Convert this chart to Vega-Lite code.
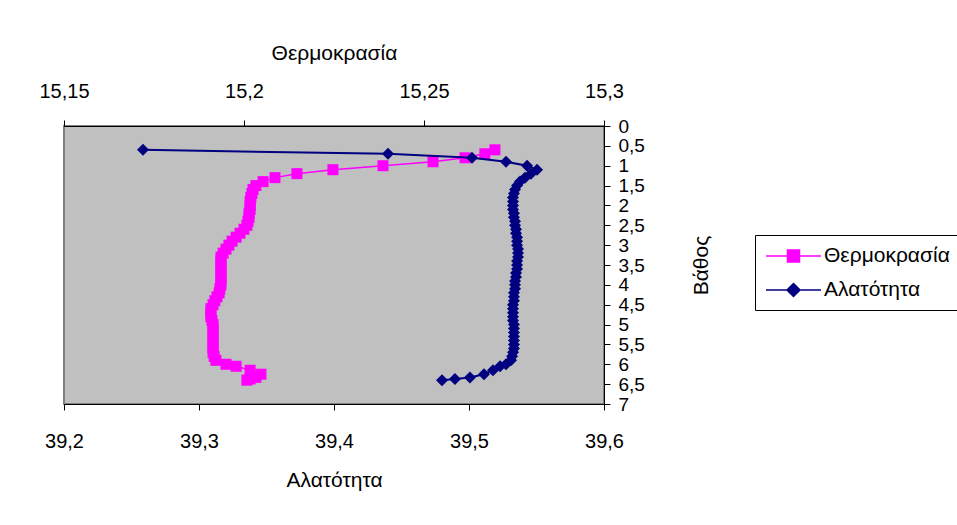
{
  "$schema": "https://vega.github.io/schema/vega-lite/v6.json",
  "width": 540,
  "height": 278,
  "autosize": {"type": "none"},
  "padding": {"left": 64, "top": 126, "right": 353, "bottom": 121},
  "background": "white",
  "config": {
    "view": {"fill": "#C0C0C0", "stroke": "#808080", "strokeWidth": 2},
    "font": "Liberation Sans",
    "axis": {
      "labelFont": "Liberation Sans", "labelFontSize": 20, "labelColor": "black",
      "titleFont": "Liberation Sans", "titleFontSize": 21, "titleFontWeight": "normal", "titleColor": "black",
      "domainColor": "black", "tickColor": "black", "tickSize": 6, "grid": false,
      "labelOverlap": false, "labelFlush": false
    }
  },
  "data": {"values": [
    {"depth": 0.6, "temp": 15.2697, "sal": 39.2585},
    {"depth": 0.7, "temp": 15.2669, "sal": 39.44},
    {"depth": 0.8, "temp": 15.2614, "sal": 39.5022},
    {"depth": 0.9, "temp": 15.2525, "sal": 39.5274},
    {"depth": 1.0, "temp": 15.2386, "sal": 39.543},
    {"depth": 1.1, "temp": 15.2247, "sal": 39.5504},
    {"depth": 1.2, "temp": 15.2147, "sal": 39.5459},
    {"depth": 1.3, "temp": 15.2086, "sal": 39.5415},
    {"depth": 1.4, "temp": 15.2053, "sal": 39.5378},
    {"depth": 1.5, "temp": 15.2033, "sal": 39.5356},
    {"depth": 1.6, "temp": 15.2025, "sal": 39.5341},
    {"depth": 1.7, "temp": 15.2022, "sal": 39.5333},
    {"depth": 1.8, "temp": 15.2019, "sal": 39.5326},
    {"depth": 1.9, "temp": 15.2017, "sal": 39.5326},
    {"depth": 2.0, "temp": 15.2017, "sal": 39.5326},
    {"depth": 2.1, "temp": 15.2017, "sal": 39.5326},
    {"depth": 2.2, "temp": 15.2014, "sal": 39.5333},
    {"depth": 2.3, "temp": 15.2014, "sal": 39.5333},
    {"depth": 2.4, "temp": 15.2011, "sal": 39.5341},
    {"depth": 2.5, "temp": 15.2008, "sal": 39.5341},
    {"depth": 2.6, "temp": 15.2, "sal": 39.5348},
    {"depth": 2.7, "temp": 15.1989, "sal": 39.5348},
    {"depth": 2.8, "temp": 15.1978, "sal": 39.5356},
    {"depth": 2.9, "temp": 15.1967, "sal": 39.5356},
    {"depth": 3.0, "temp": 15.1958, "sal": 39.5356},
    {"depth": 3.1, "temp": 15.195, "sal": 39.5363},
    {"depth": 3.2, "temp": 15.1942, "sal": 39.5363},
    {"depth": 3.3, "temp": 15.1936, "sal": 39.5363},
    {"depth": 3.4, "temp": 15.1936, "sal": 39.5356},
    {"depth": 3.5, "temp": 15.1936, "sal": 39.5356},
    {"depth": 3.6, "temp": 15.1936, "sal": 39.5356},
    {"depth": 3.7, "temp": 15.1936, "sal": 39.5348},
    {"depth": 3.8, "temp": 15.1936, "sal": 39.5348},
    {"depth": 3.9, "temp": 15.1936, "sal": 39.5341},
    {"depth": 4.0, "temp": 15.1936, "sal": 39.5341},
    {"depth": 4.1, "temp": 15.1933, "sal": 39.5341},
    {"depth": 4.2, "temp": 15.1931, "sal": 39.5333},
    {"depth": 4.3, "temp": 15.1925, "sal": 39.5333},
    {"depth": 4.4, "temp": 15.1919, "sal": 39.5333},
    {"depth": 4.5, "temp": 15.1914, "sal": 39.5326},
    {"depth": 4.6, "temp": 15.1908, "sal": 39.5326},
    {"depth": 4.7, "temp": 15.1908, "sal": 39.5326},
    {"depth": 4.8, "temp": 15.1908, "sal": 39.5326},
    {"depth": 4.9, "temp": 15.1911, "sal": 39.5326},
    {"depth": 5.0, "temp": 15.1914, "sal": 39.5333},
    {"depth": 5.1, "temp": 15.1914, "sal": 39.5333},
    {"depth": 5.2, "temp": 15.1914, "sal": 39.5333},
    {"depth": 5.3, "temp": 15.1914, "sal": 39.5333},
    {"depth": 5.4, "temp": 15.1914, "sal": 39.5333},
    {"depth": 5.5, "temp": 15.1914, "sal": 39.5333},
    {"depth": 5.6, "temp": 15.1914, "sal": 39.5333},
    {"depth": 5.7, "temp": 15.1914, "sal": 39.5326},
    {"depth": 5.8, "temp": 15.1917, "sal": 39.5319},
    {"depth": 5.9, "temp": 15.1922, "sal": 39.5311},
    {"depth": 6.0, "temp": 15.195, "sal": 39.5274},
    {"depth": 6.05, "temp": 15.1978, "sal": 39.523},
    {"depth": 6.15, "temp": 15.2017, "sal": 39.5178},
    {"depth": 6.25, "temp": 15.2047, "sal": 39.5111},
    {"depth": 6.33, "temp": 15.2033, "sal": 39.5007},
    {"depth": 6.37, "temp": 15.2017, "sal": 39.4896},
    {"depth": 6.4, "temp": 15.2008, "sal": 39.48}
  ]},
  "encoding": {
    "y": {"field": "depth", "type": "quantitative",
      "scale": {"domain": [0, 7], "reverse": true, "nice": false, "zero": false},
      "axis": {"orient": "right", "title": "Βάθος", "values": [0, 0.5, 1, 1.5, 2, 2.5, 3, 3.5, 4, 4.5, 5, 5.5, 6, 6.5, 7],
        "labelExpr": "replace(format(datum.value, '.1~f'), '.', ',')", "labelFontSize": 19, "labelPadding": 8, "titleAngle": 270, "titlePadding": 67, "labelBaseline": "middle"}},
    "order": {"field": "depth", "type": "quantitative"}
  },
  "layer": [
    {
      "mark": {"type": "line", "strokeWidth": 1.5, "point": {"shape": "square", "filled": true, "size": 121, "opacity": 1}},
      "encoding": {
        "x": {"field": "temp", "type": "quantitative",
          "scale": {"domain": [15.15, 15.3], "nice": false, "zero": false},
          "axis": {"orient": "top", "title": "Θερμοκρασία", "values": [15.15, 15.2, 15.25, 15.3],
            "labelExpr": "replace(format(datum.value, '.2~f'), '.', ',')", "labelPadding": 19, "titlePadding": 18}},
        "color": {"datum": "Θερμοκρασία", "type": "nominal",
          "scale": {"domain": ["Θερμοκρασία", "Αλατότητα"], "range": ["#FF00FF", "#000080"]},
          "legend": {
            "orient": "none", "legendX": 691, "legendY": 109, "title": null,
            "strokeColor": "black", "fillColor": "white", "padding": 10,
            "symbolSize": 400, "symbolStrokeWidth": 1.5,
            "labelFont": "Liberation Sans", "labelFontSize": 21, "labelColor": "black", "labelOffset": 37, "rowPadding": 13,
            "encode": {"symbols": {"update": {
              "shape": {"signal": "datum.value == 'Θερμοκρασία' ? 'M-1,0H4.5M1.15,-0.6H2.35V0.6H1.15Z' : 'M-1,0H4.5M1.75,-0.65L2.4,0L1.75,0.65L1.1,0Z'"},
              "fill": {"signal": "datum.value == 'Θερμοκρασία' ? '#FF00FF' : '#000080'"},
              "stroke": {"signal": "datum.value == 'Θερμοκρασία' ? '#FF00FF' : '#000080'"},
              "strokeWidth": {"value": 1.5}, "opacity": {"value": 1}, "fillOpacity": {"value": 1}
            }}}
          }}
      }
    },
    {
      "mark": {"type": "line", "strokeWidth": 2, "point": {"shape": "diamond", "filled": true, "size": 144, "opacity": 1}},
      "encoding": {
        "x": {"field": "sal", "type": "quantitative",
          "scale": {"domain": [39.2, 39.6], "nice": false, "zero": false},
          "axis": {"orient": "bottom", "title": "Αλατότητα", "values": [39.2, 39.3, 39.4, 39.5, 39.6],
            "labelExpr": "replace(format(datum.value, '.1f'), '.', ',')", "labelPadding": 21, "titlePadding": 18}},
        "color": {"datum": "Αλατότητα", "type": "nominal"}
      }
    }
  ],
  "resolve": {"scale": {"x": "independent"}, "axis": {"x": "independent"}}
}
